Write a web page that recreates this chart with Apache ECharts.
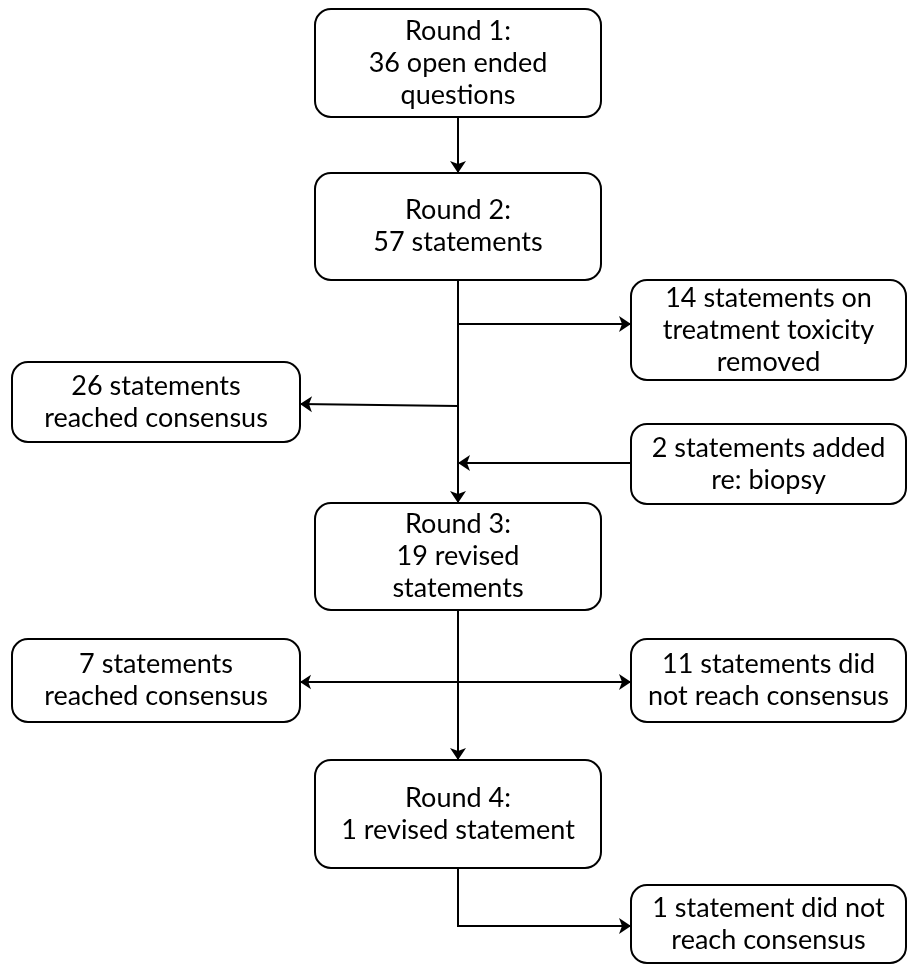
<!DOCTYPE html>
<html>
<head>
<meta charset="utf-8">
<script src="https://cdn.jsdelivr.net/npm/echarts@6/dist/echarts.min.js"></script>
<style>
  html, body { margin: 0; padding: 0; background: #fff; }
  #chartPanel { width: 907px; height: 964px; }
</style>
</head>
<body>
<div id="chartPanel"></div>
<script>
// flowchart boxes (coordinates in picture units, y grows downward)
var nodeLabels = [
  'Round 1:\n36 open ended\nquestions',
  'Round 2:\n57 statements',
  '14 statements on\ntreatment toxicity\nremoved',
  '26 statements\nreached consensus',
  '2 statements added\nre: biopsy',
  'Round 3:\n19 revised\nstatements',
  '7 statements\nreached consensus',
  '11 statements did\nnot reach consensus',
  'Round 4:\n1 revised statement',
  '1 statement did not\nreach consensus'
];
var nodeLeft   = [315, 315, 631,  12, 631, 315,  12, 631, 315, 631];
var nodeTop    = [  9, 173, 280, 362, 424, 503, 639, 639, 760, 885];
var nodeRight  = [601, 601, 906, 300, 906, 601, 300, 906, 601, 906];
var nodeBottom = [117, 280, 380, 442, 504, 610, 722, 722, 868, 963];

// connectors with an arrow head at the end
var arrowPaths = [
  [[458, 117], [458, 173]],
  [[458, 280], [458, 503]],
  [[458, 324], [631, 324]],
  [[458, 406], [300, 404]],
  [[631, 463], [458, 463]],
  [[458, 610], [458, 760]],
  [[458, 926], [631, 926]]
];
// plain segments (no head)
var plainPaths = [
  [[458, 868], [458, 927]]
];
// heads at both ends
var doubleArrows = [
  [[300, 682], [631, 682]]
];

var chartPanel = echarts.init(document.getElementById('chartPanel'));

var boxData = nodeLabels.map(function (t, i) {
  return [nodeLeft[i], nodeTop[i], nodeRight[i], nodeBottom[i]];
});

var lineData = [];
arrowPaths.forEach(function (p) {
  lineData.push({ coords: p });
});
plainPaths.forEach(function (p) {
  lineData.push({ coords: p, symbol: ['none', 'none'] });
});
doubleArrows.forEach(function (p) {
  lineData.push({ coords: p, symbol: ['arrow', 'arrow'] });
});

var option = {
  animation: false,
  grid: { left: 0, right: 0, top: 0, bottom: 0 },
  xAxis: { type: 'value', min: 0, max: 907, show: false },
  yAxis: { type: 'value', min: 0, max: 964, inverse: true, show: false },
  series: [
    {
      type: 'custom',
      z: 2,
      data: boxData,
      renderItem: function (params, api) {
        var p0 = api.coord([api.value(0), api.value(1)]);
        var p1 = api.coord([api.value(2), api.value(3)]);
        return {
          type: 'rect',
          shape: { x: p0[0], y: p0[1], width: p1[0] - p0[0], height: p1[1] - p0[1], r: 16 },
          style: { fill: '#fff', stroke: '#000', lineWidth: 2 },
          textContent: {
            style: {
              text: nodeLabels[params.dataIndex],
              fontFamily: 'Lato',
              fontSize: 27,
              lineHeight: 32,
              fill: '#000',
              align: 'center'
            }
          },
          textConfig: { position: 'inside' }
        };
      }
    },
    {
      type: 'lines',
      coordinateSystem: 'cartesian2d',
      z: 3,
      symbol: ['none', 'arrow'],
      symbolSize: [11, 12],
      lineStyle: { color: '#000', width: 2, opacity: 1, curveness: 0 },
      data: lineData
    }
  ]
};
chartPanel.setOption(option);
</script>
</body>
</html>
